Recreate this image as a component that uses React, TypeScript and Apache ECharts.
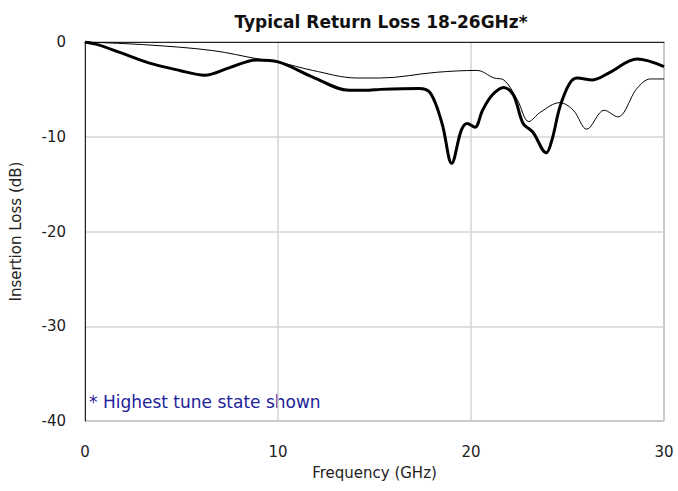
import React, { useEffect, useRef } from "react";
import * as echarts from "echarts";

const thickFreq = [0, 0.7, 1.8, 3.3, 4.9, 6.2, 7.5, 8.9, 10.0, 11.8, 13.7, 14.7, 15.3, 17.3, 17.9, 18.5, 19.0, 19.5, 19.8, 20.2, 20.6, 21.1, 21.7, 22.2, 22.7, 23.2, 23.9, 24.2, 24.6, 25.1, 25.5, 26.3, 27.2, 28.6, 30.0];
const thickLoss = [0, -0.3, -1.1, -2.2, -3.0, -3.5, -2.7, -1.9, -2.1, -3.7, -5.1, -5.1, -5.0, -4.9, -5.4, -8.6, -12.8, -9.3, -8.6, -9.0, -7.2, -5.6, -4.8, -5.6, -8.6, -9.5, -11.7, -10.3, -6.9, -4.4, -3.8, -4.0, -3.2, -1.8, -2.6];

const thinFreq = [0, 3.2, 6.6, 9.0, 10.0, 11.8, 14.1, 15.3, 18.2, 20.3, 21.2, 21.7, 22.4, 23.0, 23.6, 24.6, 25.3, 26.0, 26.9, 27.6, 28.6, 29.3, 30.0];
const thinLoss = [0, -0.3, -0.9, -1.8, -2.1, -3.0, -3.8, -3.8, -3.2, -3.0, -3.8, -4.0, -6.1, -8.4, -7.4, -6.4, -7.2, -9.2, -7.2, -7.9, -4.9, -3.9, -3.9];

const xTicks = [0, 10, 20, 30];
const yTicks = [0, -10, -20, -30, -40];

const FONT = "'DejaVu Sans', sans-serif";

export default function App() {
  const ref = useRef<HTMLDivElement>(null);
  useEffect(() => {
    if (!ref.current) return;
    const chart = echarts.init(ref.current, undefined, { renderer: "svg" });
    const thick = thickFreq.map((f, i) => [f, thickLoss[i]]);
    const thin = thinFreq.map((f, i) => [f, thinLoss[i]]);
    chart.setOption({
      animation: false,
      backgroundColor: "#ffffff",
      title: {
        text: "Typical Return Loss 18-26GHz*",
        left: 376,
        textAlign: "center",
        top: 8,
        textStyle: { fontFamily: FONT, fontSize: 17, fontWeight: "bold", color: "#111" },
      },
      grid: {
        left: 85,
        right: 14,
        top: 42,
        bottom: 70,
        show: true,
        borderColor: "#555",
        borderWidth: 1,
      },
      xAxis: {
        type: "value",
        min: xTicks[0],
        max: xTicks[xTicks.length - 1],
        interval: 10,
        name: "Frequency (GHz)",
        nameLocation: "middle",
        nameGap: 44,
        nameTextStyle: { fontFamily: FONT, fontSize: 15, color: "#222" },
        axisLine: { show: true, lineStyle: { color: "#222", width: 1 } },
        axisTick: { show: false },
        axisLabel: { fontFamily: FONT, fontSize: 15, color: "#222", margin: 23 },
        splitLine: { show: true, lineStyle: { color: "#d4d4d4", width: 1.5 } },
      },
      yAxis: {
        type: "value",
        min: yTicks[yTicks.length - 1],
        max: yTicks[0],
        interval: 10,
        name: "Insertion Loss (dB)",
        nameLocation: "middle",
        nameGap: 62,
        nameTextStyle: { fontFamily: FONT, fontSize: 15, color: "#222" },
        axisLine: { show: true, lineStyle: { color: "#222", width: 1 } },
        axisTick: { show: false },
        axisLabel: { fontFamily: FONT, fontSize: 15, color: "#222", margin: 19 },
        splitLine: { show: true, lineStyle: { color: "#d4d4d4", width: 1.5 } },
      },
      graphic: [
        {
          type: "text",
          left: 89,
          top: 393,
          style: {
            text: "* Highest tune state shown",
            fontFamily: FONT,
            fontSize: 17,
            fill: "#22229a",
          },
        },
      ],
      series: [
        {
          type: "line",
          data: thin,
          smooth: 0.35,
          showSymbol: false,
          lineStyle: { color: "#000", width: 1 },
          z: 2,
        },
        {
          type: "line",
          data: thick,
          smooth: 0.35,
          showSymbol: false,
          lineStyle: { color: "#000", width: 3 },
          z: 3,
        },
      ],
    });
    return () => chart.dispose();
  }, []);
  return <div ref={ref} style={{ width: 678, height: 491, position: "absolute", left: 0, top: 0 }} />;
}
